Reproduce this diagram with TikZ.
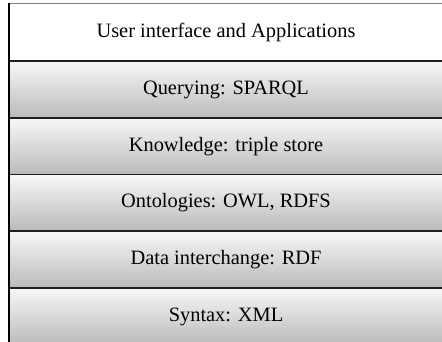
\documentclass[tikz,border=0pt]{standalone}
\usepackage{fontspec}
\setmainfont{Liberation Serif}
\begin{document}
\begin{tikzpicture}[x=1pt,y=1pt,
  layer/.style={minimum width=434pt, minimum height=57pt, inner sep=0pt,
    outer sep=0pt, anchor=north west, font=\fontsize{20.4}{24}\selectfont},
  shadedlayer/.style={layer, top color=black!3, bottom color=black!27},
  rule/.style={line width=1.6pt, black!88},
  topedge/.style={line width=1.3pt, black!50},
  leftedge/.style={line width=1.4pt, black}]
  \useasboundingbox (0,0) rectangle (442,-342);
  \clip (0,0) rectangle (442,-342);
  % the stack of layers, top to bottom
  \node[layer, fill=white, minimum height=57.5pt] (ui) at (9,-3.5) {User interface and Applications};
  \node[shadedlayer] (query) at (ui.south west) {Querying: SPARQL};
  \node[shadedlayer, minimum height=56.5pt] (know) at (query.south west) {Knowledge: triple store};
  \node[shadedlayer, minimum height=56.5pt] (onto) at (know.south west) {Ontologies: OWL, RDFS};
  \node[shadedlayer] (data) at (onto.south west) {Data interchange: RDF};
  \node[shadedlayer] (syntax) at (data.south west) {Syntax: XML};
  % borders
  \draw[topedge] (ui.north west) -- (ui.north east);
  \foreach \n in {query,know,onto,data,syntax}
    \draw[rule] (\n.north west) -- (\n.north east);
  \draw[leftedge] (ui.north west) -- (syntax.south west);
\end{tikzpicture}
\end{document}
